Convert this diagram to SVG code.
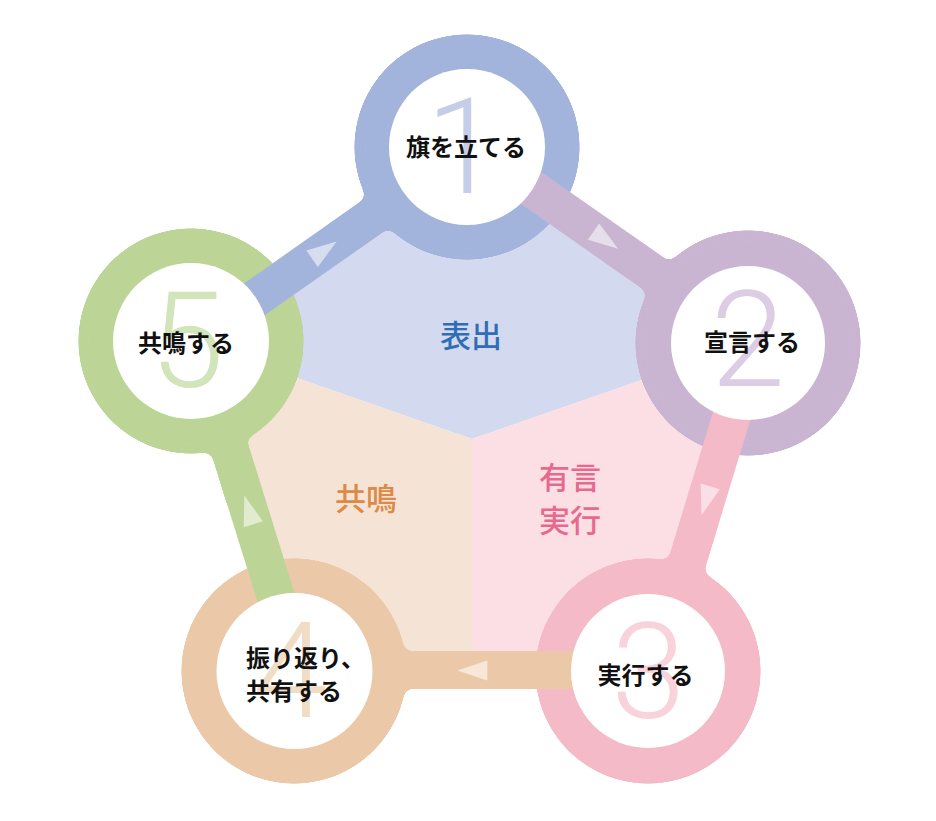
<svg xmlns="http://www.w3.org/2000/svg" width="936" height="821" viewBox="0 0 936 821">
<style>
.lbl{font-family:"Noto Sans CJK JP","Noto Sans",sans-serif;font-weight:700;font-size:24px;fill:#111;text-anchor:middle}
.sec{font-family:"Noto Sans CJK JP","Noto Sans",sans-serif;font-weight:500;font-size:31px;text-anchor:middle}
.num{font-family:Roboto,"Open Sans","Liberation Sans",sans-serif;font-weight:300;font-size:134px;text-anchor:middle}
.band{stroke-width:38;fill:none}
.arr{fill:#fff;fill-opacity:0.55}
.hole{fill:#fff}
</style>
<defs>
<filter id="goo" x="-20%" y="-20%" width="140%" height="140%" color-interpolation-filters="sRGB">
<feGaussianBlur stdDeviation="5"/>
<feColorMatrix values="1 0 0 0 0  0 1 0 0 0  0 0 1 0 0  0 0 0 24 -12"/>
</filter>
<polygon id="arrow" points="20,0 -10,-10 -10,10"/>
</defs>
<rect width="936" height="821" fill="#fff"/>
<g id="sectors">
<polygon points="191,341 467,147 748,343 472,439" fill="#d3d9ee"/>
<polygon points="748,343 648,671 472,671 472,439" fill="#fbdfe5"/>
<polygon points="472,439 472,671 294,671 191,341" fill="#f5e3d5"/>
<text class="sec" x="471" y="347" fill="#2f6db5">表出</text>
<text class="sec" x="570" y="489" fill="#e8698e">有言</text>
<text class="sec" x="570" y="532" fill="#e8698e">実行</text>
<text class="sec" x="366" y="510" fill="#dc8a45">共鳴</text>
</g>
<g id="rings">
<g filter="url(#goo)" fill="#a3b4dc" stroke="#a3b4dc"><circle cx="467" cy="147" r="113" stroke="none"/><line class="band" x1="329" y1="246.9" x2="467" y2="149.9"/></g>
<g filter="url(#goo)" fill="#c9b5d2" stroke="#c9b5d2"><circle cx="748" cy="343" r="113" stroke="none"/><line class="band" x1="607" y1="241.4" x2="748" y2="339.4"/></g>
<g filter="url(#goo)" fill="#f4bac7" stroke="#f4bac7"><circle cx="648" cy="671" r="113" stroke="none"/><line class="band" x1="704" y1="507" x2="654.1" y2="671"/></g>
<g filter="url(#goo)" fill="#ebc9a8" stroke="#ebc9a8"><circle cx="294" cy="671" r="113" stroke="none"/><line class="band" x1="471" y1="670" x2="294" y2="670"/></g>
<g filter="url(#goo)" fill="#bcd596" stroke="#bcd596"><circle cx="191" cy="341" r="113" stroke="none"/><line class="band" x1="247" y1="506" x2="196.3" y2="341"/></g>
</g>
<g id="connectors">
<line class="band" stroke="#c9b5d2" x1="467" y1="143.3" x2="748" y2="339.4"/>
<line class="band" stroke="#f4bac7" x1="753.8" y1="343" x2="654.1" y2="671"/>
<line class="band" stroke="#ebc9a8" x1="648" y1="670" x2="294" y2="670"/>
<line class="band" stroke="#bcd596" x1="298.9" y1="671" x2="196.3" y2="341"/>
<line class="band" stroke="#a3b4dc" x1="191" y1="343.9" x2="467" y2="149.9"/>
<use href="#arrow" class="arr" transform="translate(601.7,237.3) rotate(34.9)"/>
<use href="#arrow" class="arr" transform="translate(707.3,496) rotate(106.9)"/>
<use href="#arrow" class="arr" transform="translate(477.3,670.5) rotate(180)"/>
<use href="#arrow" class="arr" transform="translate(250.3,514.7) rotate(252.7)"/>
<use href="#arrow" class="arr" transform="translate(320.3,253) rotate(-35.1)"/>
</g>
<g id="node1">
<circle class="hole" cx="467" cy="147" r="78"/>
<text class="num" x="463" y="193" fill="#c5cde8">1</text>
<text class="lbl" x="466" y="156">旗を立てる</text>
</g>
<g id="node2">
<circle class="hole" cx="748" cy="343" r="77"/>
<text class="num" x="748" y="386" fill="#dccde4">2</text>
<text class="lbl" x="752" y="350.5">宣言する</text>
</g>
<g id="node3">
<circle class="hole" cx="648" cy="671" r="77"/>
<text class="num" x="648.5" y="718" fill="#f8d3dc">3</text>
<text class="lbl" x="645.5" y="684">実行する</text>
</g>
<g id="node4">
<circle class="hole" cx="294.5" cy="671" r="78"/>
<text class="num" x="290" y="717" fill="#f1dcc6">4</text>
<text class="lbl" x="246" y="666.5" style="text-anchor:start">振り返り、</text>
<text class="lbl" x="246" y="699.5" style="text-anchor:start">共有する</text>
</g>
<g id="node5">
<circle class="hole" cx="191" cy="341" r="78"/>
<text class="num" x="187" y="387" fill="#d2e4ba">5</text>
<text class="lbl" x="186" y="351.5">共鳴する</text>
</g>
</svg>
